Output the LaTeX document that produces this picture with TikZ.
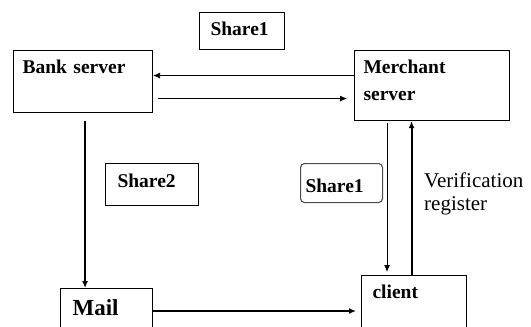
\documentclass[tikz,border=0pt]{standalone}
\usepackage{fontspec}
\setmainfont{Liberation Serif}
\usetikzlibrary{arrows.meta}

\begin{document}
\begin{tikzpicture}[
    x=1pt,y=-1pt,
    every node/.style={align=left},
    box/.style={draw,line width=1.1pt,anchor=north west,inner ysep=0pt,
                font=\fontsize{19.5}{27}\selectfont\bfseries},
    arr/.style={-{Latex[length=7pt,width=6pt]},line width=0.8pt},
    thickarr/.style={-{Latex[length=7pt,width=6pt]},line width=2pt}
]
\useasboundingbox (0,0) rectangle (531,327);
\clip (0,0) rectangle (531,327);
\node[box,inner xsep=11pt,text width=63pt,text height=23pt,text depth=14pt] (shareA) at (199,12) {Share1};
\node[box,inner xsep=9pt,text width=121pt,text height=23pt,text depth=39pt] (bank) at (13,50) {Bank server};
\node[box,inner xsep=9pt,text width=137pt,text height=23pt,text depth=47pt] (merchant) at (354,50) {Merchant\\server};
\node[box,inner xsep=12pt,text width=69pt,text height=24pt,text depth=18pt] (shareB) at (105,163) {Share2};
\node[box,draw=black!70,rounded corners=4pt,inner xsep=5pt,text width=72pt,text height=29pt,text depth=10pt] (shareC) at (300,163) {Share1};
\node[box,inner xsep=12pt,text width=68pt,text height=27pt,text depth=40pt,
      font=\fontsize{23}{25}\selectfont\bfseries] (mail) at (60,288) {Mail};
\node[box,inner xsep=11pt,text width=83pt,text height=23pt,text depth=40pt] (client) at (361,275) {client};
\node[anchor=north west,inner sep=0pt,font=\fontsize{21}{23}\selectfont] (verif) at (424,173) {Verification\\register};
\draw[arr] ([yshift=10pt]merchant.west) -- ([yshift=10pt]merchant.west -| bank.east);
\draw[arr,shorten <=5pt,shorten >=7pt] ([yshift=-17pt]bank.east) -- ([yshift=-17pt]bank.east -| merchant.west);
\draw[thickarr,shorten <=8pt] ([xshift=2pt]bank.south) -- ([xshift=2pt]bank.south |- mail.north);
\draw[arr,shorten <=2pt,shorten >=3pt] ([xshift=-45pt]merchant.south) -- ([xshift=-45pt]merchant.south |- client.north);
\draw[thickarr] ([xshift=-2.5pt]client.north) -- ([xshift=-2.5pt]client.north |- merchant.south);
\draw[thickarr,shorten >=5pt] ([yshift=-23pt]mail.north east) -- ([yshift=-23pt]mail.north east -| client.west);
\end{tikzpicture}
\end{document}
